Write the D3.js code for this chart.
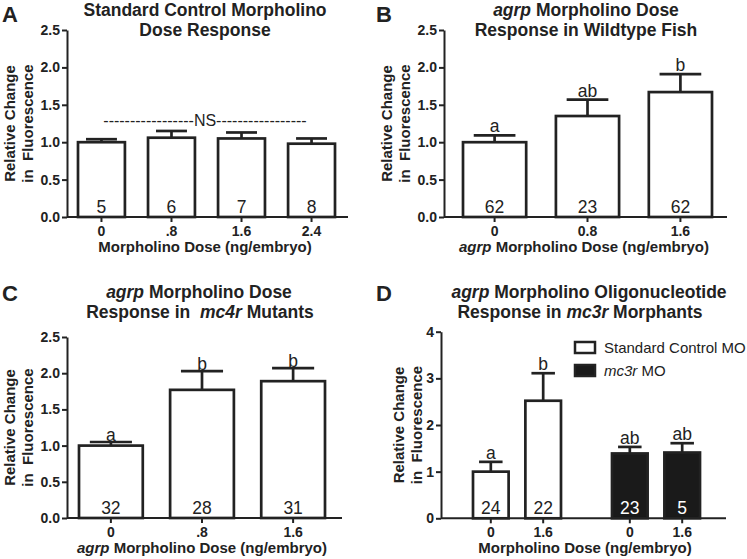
<!DOCTYPE html>
<html><head><meta charset="utf-8">
<script src="https://cdn.jsdelivr.net/npm/d3@7"></script>
<style>
body{margin:0;background:#fff}
text{font-family:"Liberation Sans",Arial,sans-serif;fill:#222;white-space:pre}
</style>
</head><body><svg id="c" width="747" height="559"></svg>
<script>
// ---------- Panel A ----------
const aCategories = ["0", ".8", "1.6", "2.4"];
const aMeans = [1.00, 1.06, 1.05, 0.98];
const aErrors = [0.04, 0.09, 0.08, 0.07];
const aCounts = ["5", "6", "7", "8"];
const aYTicks = [0, 0.5, 1.0, 1.5, 2.0, 2.5];
// ---------- Panel B ----------
const bCategories = ["0", "0.8", "1.6"];
const bMeans = [1.00, 1.35, 1.67];
const bErrors = [0.09, 0.22, 0.24];
const bCounts = ["62", "23", "62"];
const bLetters = ["a", "ab", "b"];
const bYTicks = [0, 0.5, 1.0, 1.5, 2.0, 2.5];
// ---------- Panel C ----------
const cCategories = ["0", ".8", "1.6"];
const cMeans = [1.00, 1.77, 1.89];
const cErrors = [0.05, 0.26, 0.18];
const cCounts = ["32", "28", "31"];
const cLetters = ["a", "b", "b"];
const cYTicks = [0, 0.5, 1.0, 1.5, 2.0, 2.5];
// ---------- Panel D ----------
const dGroups = ["Standard Control MO", "mc3r MO"];
const dDoses = ["0", "1.6"];
const dMeans = [[1.00, 2.52], [1.39, 1.41]];
const dErrors = [[0.21, 0.59], [0.14, 0.20]];
const dCounts = [["24", "22"], ["23", "5"]];
const dLetters = [["a", "b"], ["ab", "ab"]];
const dYTicks = [0, 1, 2, 3, 4];

const INK = "#222";
const svg = d3.select("#c");

function richText(g, x, y, parts, opts) {
  const t = g.append("text").attr("x", x).attr("y", y)
    .attr("text-anchor", opts.anchor || "middle")
    .style("font-size", opts.size + "px")
    .style("font-weight", opts.weight || "normal");
  parts.forEach(p => {
    t.append("tspan").text(p[0]).style("font-style", p[1] ? "italic" : "normal");
  });
  if (opts.rotate) t.attr("transform", `rotate(-90,${x},${y})`);
  return t;
}

function drawPanel(cfg) {
  const g = svg.append("g");
  const y = d3.scaleLinear().domain([0, cfg.yMax]).range([cfg.yBottom, cfg.yTop]);

  // y axis
  const yAxis = d3.axisLeft(y).tickValues(cfg.yTicks).tickFormat(cfg.fmt).tickSize(5).tickPadding(2).tickSizeOuter(0);
  const ya = g.append("g").attr("transform", `translate(${cfg.axisX},0)`).call(yAxis);
  ya.select(".domain").attr("stroke", INK).attr("stroke-width", 2);
  ya.selectAll(".tick line").attr("stroke", INK).attr("stroke-width", 2);
  ya.selectAll(".tick text").style("font-size", "14px").style("font-weight", "bold")
    .style("font-family", '"Liberation Sans",Arial,sans-serif').attr("fill", INK);

  // x baseline
  g.append("line").attr("x1", cfg.axisX).attr("x2", cfg.xEnd)
    .attr("y1", cfg.yBottom).attr("y2", cfg.yBottom)
    .attr("stroke", INK).attr("stroke-width", 2);

  // bars
  cfg.bars.forEach(b => {
    const x0 = b.x, w = b.w, cx = x0 + w / 2;
    const top = y(b.mean), etop = y(b.mean + b.err);
    const capW = w * 0.66;
    g.append("line").attr("x1", cx).attr("x2", cx).attr("y1", top).attr("y2", etop)
      .attr("stroke", INK).attr("stroke-width", 2.7);
    g.append("line").attr("x1", cx - capW / 2).attr("x2", cx + capW / 2)
      .attr("y1", etop).attr("y2", etop).attr("stroke", INK).attr("stroke-width", 2.7);
    g.append("rect").attr("x", x0).attr("y", top).attr("width", w).attr("height", cfg.yBottom - top)
      .attr("fill", b.fill).attr("stroke", INK).attr("stroke-width", 2.7);
    // x tick
    g.append("line").attr("x1", cx).attr("x2", cx).attr("y1", cfg.yBottom).attr("y2", cfg.yBottom + 5)
      .attr("stroke", INK).attr("stroke-width", 2);
    g.append("text").attr("x", cx).attr("y", cfg.yBottom + 19).attr("text-anchor", "middle")
      .style("font-size", "14px").style("font-weight", "bold").text(b.label);
    g.append("text").attr("x", cx).attr("y", cfg.yBottom - 4).attr("text-anchor", "middle")
      .style("font-size", "17.5px").style("fill", b.fill === "#fff" ? INK : "#fff").text(b.n);
    if (b.letter) {
      g.append("text").attr("x", cx).attr("y", etop - 3 + (cfg.letterShift || 0)).attr("text-anchor", "middle")
        .style("font-size", "17.5px").text(b.letter);
    }
  });

  // titles
  cfg.title.forEach((line, i) => richText(g, cfg.titleX[i], cfg.titleY + i * 20, line, {size: 17.5, weight: "bold"}));
  richText(g, cfg.xTitleX, cfg.yBottom + 35, cfg.xTitle, {size: 15, weight: "bold"});
  const ymid = (cfg.yTop + cfg.yBottom) / 2;
  richText(g, cfg.yT1, ymid, [["Relative Change", false]], {size: 15, weight: "bold", rotate: true});
  richText(g, cfg.yT2, ymid, [["in  Fluorescence", false]], {size: 15, weight: "bold", rotate: true});
  g.append("text").attr("x", cfg.letterPos[0]).attr("y", cfg.letterPos[1])
    .style("font-size", "22px").style("font-weight", "bold").text(cfg.letter);
  return {g, y};
}

function simpleBars(categories, means, errors, counts, letters, range, padInner, fill) {
  const x = d3.scaleBand().domain(categories).range(range).paddingInner(padInner).paddingOuter(0);
  return categories.map((c, i) => ({
    x: x(c), w: x.bandwidth(), mean: means[i], err: errors[i], n: counts[i],
    label: c, letter: letters ? letters[i] : null, fill
  }));
}

const fmt1 = d3.format(".1f");

// Panel A
const pA = drawPanel({
  letter: "A", letterPos: [2, 22],
  axisX: 67, xEnd: 348, yTop: 30, yBottom: 217, yMax: 2.5, yTicks: aYTicks, fmt: fmt1,
  bars: simpleBars(aCategories, aMeans, aErrors, aCounts, null, [78, 335], 0.33, "#fff"),
  title: [[["Standard Control Morpholino", false]], [["Dose Response", false]]],
  titleX: [205, 205], titleY: 16,
  xTitle: [["Morpholino Dose (ng/embryo)", false]], xTitleX: 205,
  yT1: 15, yT2: 33
});
pA.g.append("text").attr("x", 205).attr("y", pA.y(1.3) + 6).attr("text-anchor", "middle")
  .style("font-size", "16px").text("-----------------NS-----------------");

// Panel B
drawPanel({
  letter: "B", letterPos: [376, 22],
  axisX: 444, xEnd: 727, yTop: 30, yBottom: 217, yMax: 2.5, yTicks: bYTicks, fmt: fmt1,
  bars: simpleBars(bCategories, bMeans, bErrors, bCounts, bLetters, [463, 712], 0.32, "#fff"),
  title: [[["agrp", true], [" Morpholino Dose", false]], [["Response in Wildtype Fish", false]]],
  titleX: [586, 586], titleY: 16,
  xTitle: [["agrp", true], [" Morpholino Dose (ng/embryo)", false]], xTitleX: 584,
  yT1: 392, yT2: 410
});

// Panel C
drawPanel({
  letter: "C", letterPos: [2, 301],
  axisX: 67, xEnd: 342, yTop: 337, yBottom: 518, yMax: 2.5, yTicks: cYTicks, fmt: fmt1,
  bars: simpleBars(cCategories, cMeans, cErrors, cCounts, cLetters, [79, 325], 0.3, "#fff"),
  title: [[["agrp", true], [" Morpholino Dose", false]], [["Response in  ", false], ["mc4r", true], [" Mutants", false]]],
  titleX: [199, 200], titleY: 298, letterShift: 2,
  xTitle: [["agrp", true], [" Morpholino Dose (ng/embryo)", false]], xTitleX: 202,
  yT1: 15, yT2: 33
});

// Panel D
const gx = d3.scaleBand().domain(dGroups).range([473, 700]).paddingInner(0.367).paddingOuter(0);
const ix = d3.scaleBand().domain(dDoses).range([0, gx.bandwidth()]).paddingInner(0.32).paddingOuter(0);
const dBars = [];
dGroups.forEach((grp, gi) => dDoses.forEach((dose, di) => dBars.push({
  x: gx(grp) + ix(dose), w: ix.bandwidth(), mean: dMeans[gi][di], err: dErrors[gi][di],
  n: dCounts[gi][di], label: dose, letter: dLetters[gi][di], fill: gi === 0 ? "#fff" : "#1a1a1a"
})));
const pD = drawPanel({
  letter: "D", letterPos: [376, 301],
  axisX: 441, xEnd: 726, yTop: 331.7, yBottom: 518.3, yMax: 4, yTicks: dYTicks, fmt: d3.format("d"),
  bars: dBars,
  title: [[["agrp", true], [" Morpholino Oligonucleotide", false]], [["Response in ", false], ["mc3r", true], [" Morphants", false]]],
  titleX: [589, 580], titleY: 298,
  xTitle: [["Morpholino Dose (ng/embryo)", false]], xTitleX: 585,
  yT1: 404, yT2: 422
});
// legend
const legendItems = [
  {parts: [["Standard Control MO", false]], fill: "#fff"},
  {parts: [["mc3r", true], [" MO", false]], fill: "#1a1a1a"}
];
legendItems.forEach((it, i) => {
  const ly = 342 + i * 23;
  pD.g.append("rect").attr("x", 575).attr("y", ly).attr("width", 20).attr("height", 11)
    .attr("fill", it.fill).attr("stroke", INK).attr("stroke-width", 2.5);
  richText(pD.g, 604, ly + 11, it.parts, {size: 15, anchor: "start"});
});
</script>
</body></html>
